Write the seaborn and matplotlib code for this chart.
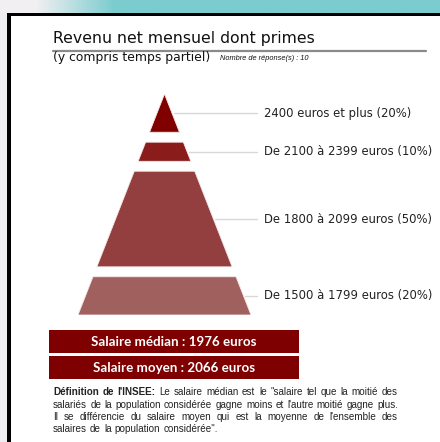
import numpy as np
import pandas as pd
import matplotlib
matplotlib.use("Agg")
import matplotlib.pyplot as plt
import seaborn as sns
from matplotlib.patches import Rectangle
from matplotlib.lines import Line2D

# Data
categories = ["De 1500 à 1799 euros", "De 1800 à 2099 euros",
              "De 2100 à 2399 euros", "2400 euros et plus"]
percents = [20, 50, 10, 20]
colors = ["#a0605e", "#943f3f", "#8a1c1c", "#800000"]
median_salary = 1976
mean_salary = 2066
n_responses = 10

title = "Revenu net mensuel dont primes"
subtitle = "(y compris temps partiel)"
definition_lines = [
    [("Définition", "bold"), ("de", "bold"), ("l'INSEE:", "bold"), ("Le", "normal"),
     ("salaire", "normal"), ("médian", "normal"), ("est", "normal"), ("le", "normal"),
     ("\"salaire", "normal"), ("tel", "normal"), ("que", "normal"), ("la", "normal"),
     ("moitié", "normal"), ("des", "normal")],
    "salariés de la population considérée gagne moins et l'autre moitié gagne plus.",
    "Il se différencie du salaire moyen qui est la moyenne de l'ensemble des",
    "salaires de la population considérée\".",
]

sns.set_theme(style="white")
plt.rcParams['font.family'] = ['DejaVu Sans']

W, H = 440, 442
fig = plt.figure(figsize=(W / 100, H / 100), dpi=100)
fig.patch.set_facecolor("#eeeef1")


def fx(x):
    return x / W


def fy(y):
    return 1 - y / H


def rect(x0, y0, x1, y1, color, z=0):
    fig.patches.append(Rectangle((fx(x0), fy(y1)), fx(x1) - fx(x0), fy(y0) - fy(y1),
                                 transform=fig.transFigure, color=color, zorder=z, lw=0))


# top band gradient (slide background)
band = fig.add_axes([0, fy(13), 1, 13 / H])
grad = np.linspace(0, 1, 440)
grad = np.clip((grad - 0.08) / 0.18, 0, 1)
c0 = np.array([0.95, 0.94, 0.95])
c1 = np.array([0.48, 0.80, 0.81])
img = c0[None, None, :] * (1 - grad[None, :, None]) + c1[None, None, :] * grad[None, :, None]
band.imshow(img, aspect="auto", extent=[0, 1, 0, 1])
band.axis("off")

# page frame
rect(7, 12.5, W + 5, H + 5, "black", z=1)
rect(11, 16, W + 5, H + 5, "white", z=2)

# title and subtitle
fig.text(fx(53), fy(38), title, fontsize=11.3, color="#111111", va="center", ha="left", zorder=5)
fig.lines.append(Line2D([fx(53), fx(426)], [fy(51), fy(51)], transform=fig.transFigure,
                        color="#8a8a8a", lw=1.6, zorder=5))
fig.text(fx(53), fy(57.5), subtitle, fontsize=8.9, color="#111111", va="center", ha="left", zorder=5)
fig.text(fx(220), fy(58.5), f"Nombre de réponse(s) : {n_responses}", fontsize=5.3,
         style="italic", family="Liberation Sans", color="#111111", va="center", ha="left", zorder=5)

# pyramid
ax = fig.add_axes([fx(78), fy(315), fx(251) - fx(78), fy(94) - fy(315)])
ax.set_zorder(6)
ax.patch.set_alpha(0)
gap = 5.2
total = sum(percents) + gap * (len(percents) - 1)


def half_width(y):
    return (total - y) / total


df = pd.DataFrame({"category": categories, "percent": percents, "color": colors})
y0 = 0.0
for _, row in df.iterrows():
    y1 = y0 + row["percent"]
    xs = [-half_width(y0), half_width(y0), half_width(y1), -half_width(y1)]
    ys = [y0, y0, y1, y1]
    ax.fill(xs, ys, color=row["color"], ec="#f4e8e8", lw=0.6)
    ym = (y0 + y1) / 2
    ax.plot([half_width(ym) + 0.02, 1.07], [ym, ym], color="#d8d8d8", lw=1, clip_on=False)
    ax.text(1.15, ym, f"{row['category']} ({row['percent']}%)", fontsize=8.4, color="#222222",
            va="center", ha="left", clip_on=False)
    y0 = y1 + gap
ax.set_xlim(-1, 1)
ax.set_ylim(0, total)
ax.axis("off")

# salary boxes
rect(49, 330, 299, 353, "#7f0000", z=5)
rect(49, 356, 299, 379, "#7f0000", z=5)
fig.text(fx(174), fy(341.5), f"Salaire médian : {median_salary} euros", fontsize=9.6,
         family="Lato", weight="bold", color="white", ha="center", va="center", zorder=7)
fig.text(fx(174), fy(367.5), f"Salaire moyen : {mean_salary} euros", fontsize=9.6,
         family="Lato", weight="bold", color="white", ha="center", va="center", zorder=7)

# justified definition text
renderer = fig.canvas.get_renderer()
left, right = 53, 398
line_y = [392, 404.5, 417, 429.5]
for i, line in enumerate(definition_lines):
    words = line if isinstance(line, list) else [(w, "normal") for w in line.split()]
    texts = []
    for w, weight in words:
        t = fig.text(0, fy(line_y[i]), w, fontsize=7.1, family="Liberation Sans",
                     weight=weight, color="#222222", va="center", ha="left", zorder=7)
        texts.append(t)
    widths = [t.get_window_extent(renderer).width for t in texts]
    if i < len(definition_lines) - 1:
        space = (right - left - sum(widths)) / (len(texts) - 1)
    else:
        space = texts[0].get_window_extent(renderer).height * 0.3
    x = left
    for t, wd in zip(texts, widths):
        t.set_x(fx(x))
        x += wd + space

fig.savefig("out.png", dpi=100, facecolor=fig.get_facecolor())
